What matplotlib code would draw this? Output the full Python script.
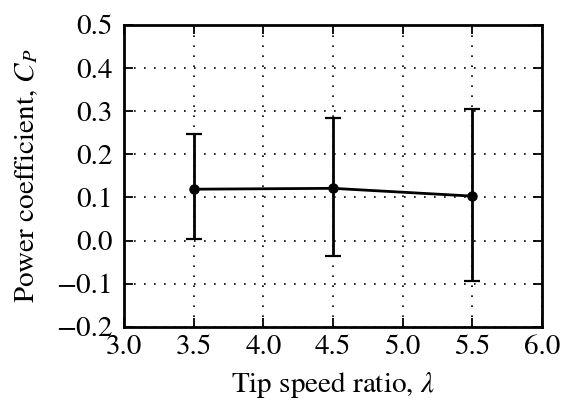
import matplotlib
matplotlib.use('Agg')
import matplotlib.pyplot as plt

tsr = [3.5, 4.5, 5.5]
cp = [0.119, 0.121, 0.103]
err_low = [0.116, 0.156, 0.196]
err_high = [0.128, 0.163, 0.202]

plt.rcParams['font.family'] = 'STIXGeneral'
plt.rcParams['mathtext.fontset'] = 'stix'
plt.rcParams['font.size'] = 21

fig, ax = plt.subplots(figsize=(5.62, 4.07), dpi=100)
fig.subplots_adjust(left=0.221, right=0.964, top=0.939, bottom=0.197)

ax.errorbar(tsr, cp, yerr=[err_low, err_high], color='black', marker='o',
            markersize=6.5, linewidth=2.0, elinewidth=2.0, capsize=5.5, capthick=1.6)

ax.set_xlim(3.0, 6.0)
ax.set_ylim(-0.2, 0.5)
ax.set_xticks([3.0, 3.5, 4.0, 4.5, 5.0, 5.5, 6.0])
ax.set_yticks([-0.2, -0.1, 0.0, 0.1, 0.2, 0.3, 0.4, 0.5])
ax.set_yticklabels(['\u22120.2', '\u22120.1', '0.0', '0.1', '0.2', '0.3', '0.4', '0.5'])
ax.set_xticklabels(['3.0', '3.5', '4.0', '4.5', '5.0', '5.5', '6.0'])
ax.grid(True, linestyle=(0, (1, 5)), color='black', linewidth=1.2)
ax.tick_params(direction='in', top=True, right=True, length=6.5, width=1.3)
ax.tick_params(axis='y', pad=8)
ax.tick_params(axis='x', pad=6)
for s in ax.spines.values():
    s.set_linewidth(2.0)

ax.set_xlabel(r'Tip speed ratio, $\lambda$', labelpad=7)
ax.set_ylabel(r'Power coefficient, $C_P$', labelpad=12)

fig.savefig('out.png', dpi=100)
